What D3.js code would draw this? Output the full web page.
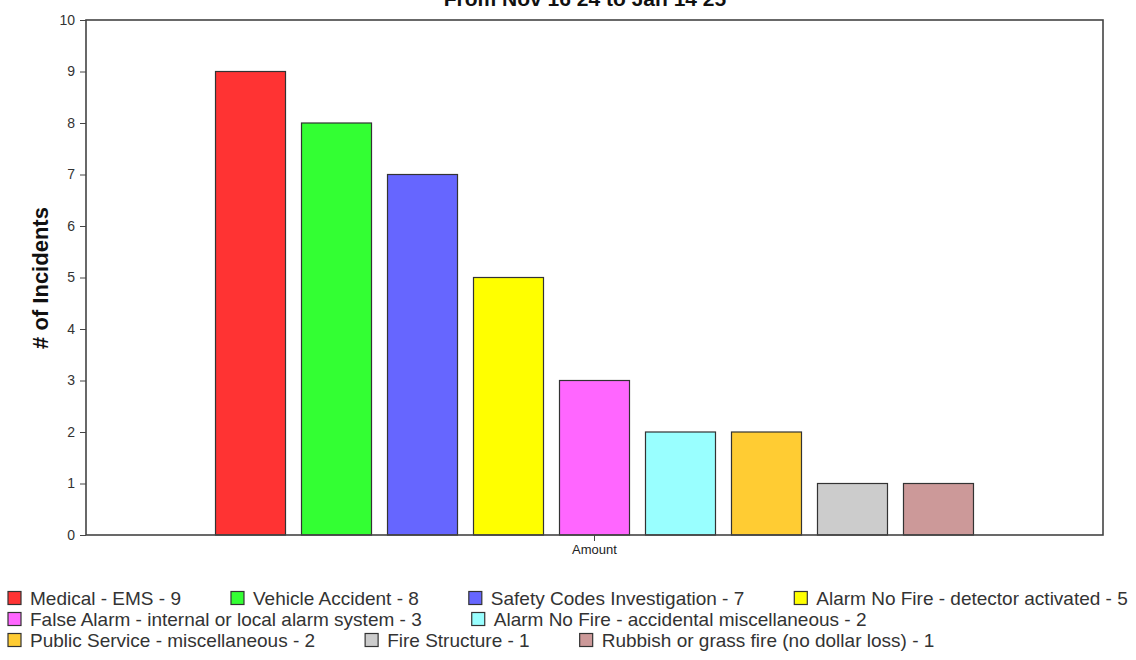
<!DOCTYPE html>
<html>
<head>
<meta charset="utf-8">
<script src="https://cdn.jsdelivr.net/npm/d3@7"></script>
<style>
  html, body { margin: 0; padding: 0; background: #ffffff; }
  svg { display: block; font-family: "Liberation Sans", Arial, sans-serif; }
</style>
</head>
<body>
<svg id="chart" width="1136" height="660"></svg>
<script>
// ---- data ----
const titleText = "From Nov 16 24 to Jan 14 25";
const yAxisTitle = "# of Incidents";
const categories = ["Amount"];
const seriesNames = [
  "Medical - EMS",
  "Vehicle Accident",
  "Safety Codes Investigation",
  "Alarm No Fire - detector activated",
  "False Alarm - internal or local alarm system",
  "Alarm No Fire - accidental miscellaneous",
  "Public Service - miscellaneous",
  "Fire Structure",
  "Rubbish or grass fire (no dollar loss)"
];
const seriesValues = [9, 8, 7, 5, 3, 2, 2, 1, 1];
const seriesColors = ["#ff3333", "#33ff33", "#6666ff", "#ffff00", "#ff66ff", "#99ffff", "#ffcc33", "#cccccc", "#cc9999"];
const yTicks = [0, 1, 2, 3, 4, 5, 6, 7, 8, 9, 10];

// ---- layout ----
const svg = d3.select("#chart");
const plot = { left: 86, right: 1103, top: 20, bottom: 535 };

const y = d3.scaleLinear().domain([0, 10]).range([plot.bottom, plot.top]);
const x0 = d3.scaleBand().domain(categories).range([plot.left, plot.right]).paddingInner(0).paddingOuter(0.157);
const x1 = d3.scaleBand().domain(seriesNames).range([0, x0.bandwidth()]).paddingInner(0.186).paddingOuter(0.093);

// plot background
svg.append("rect")
  .attr("x", plot.left).attr("y", plot.top)
  .attr("width", plot.right - plot.left).attr("height", plot.bottom - plot.top)
  .attr("fill", "#ffffff");

// title (partially clipped at top, as in the reference)
svg.append("text")
  .attr("x", 585).attr("y", 6)
  .attr("text-anchor", "middle")
  .attr("font-size", 21).attr("font-weight", "bold").attr("fill", "#111")
  .text(titleText);

// bars
const group = svg.append("g").selectAll("g").data(categories).join("g")
  .attr("transform", d => `translate(${x0(d)},0)`);
group.selectAll("rect")
  .data(seriesNames.map((n, i) => ({ name: n, value: seriesValues[i], color: seriesColors[i] })))
  .join("rect")
  .attr("x", d => x1(d.name))
  .attr("y", d => y(d.value))
  .attr("width", x1.bandwidth())
  .attr("height", d => y(0) - y(d.value))
  .attr("fill", d => d.color)
  .attr("stroke", "#333")
  .attr("stroke-width", 1.2);

// frame
svg.append("rect")
  .attr("x", plot.left).attr("y", plot.top)
  .attr("width", plot.right - plot.left).attr("height", plot.bottom - plot.top)
  .attr("fill", "none").attr("stroke", "#444").attr("stroke-width", 1.6);

// y axis
const yAxis = svg.append("g")
  .attr("transform", `translate(${plot.left},0)`)
  .call(d3.axisLeft(y).tickValues(yTicks).tickSize(6).tickPadding(5).tickFormat(d3.format("d")));
yAxis.select(".domain").remove();
yAxis.selectAll(".tick line").attr("stroke", "#444");
yAxis.selectAll(".tick text").attr("font-size", 14).attr("fill", "#333")
  .attr("font-family", "'Liberation Sans', Arial, sans-serif");

// x axis
const xAxis = svg.append("g")
  .attr("transform", `translate(0,${plot.bottom})`)
  .call(d3.axisBottom(x0).tickSize(6).tickPadding(4));
xAxis.select(".domain").remove();
xAxis.selectAll(".tick line").attr("stroke", "#444");
xAxis.selectAll(".tick text").attr("font-size", 13).attr("fill", "#222")
  .attr("font-family", "'Liberation Sans', Arial, sans-serif");

// y axis title
svg.append("text")
  .attr("transform", "translate(48,278) rotate(-90)")
  .attr("text-anchor", "middle")
  .attr("font-size", 22).attr("font-weight", "bold").attr("fill", "#111")
  .text(yAxisTitle);

// legend (flow layout)
const legend = svg.append("g");
const legendFont = 19, sq = 13, rowH = 21, gap = 50, maxW = 1136;
let lx = 8, ly = 598;
seriesNames.forEach((n, i) => {
  const label = `${n} - ${seriesValues[i]}`;
  const g = legend.append("g");
  const t = g.append("text")
    .attr("font-size", legendFont).attr("fill", "#333")
    .text(label);
  const w = t.node().getComputedTextLength();
  if (lx > 8 && lx + 22 + w > maxW) { lx = 8; ly += rowH; }
  g.append("rect")
    .attr("x", lx).attr("y", ly - sq / 2)
    .attr("width", sq).attr("height", sq)
    .attr("fill", seriesColors[i]).attr("stroke", "#333").attr("stroke-width", 1.2);
  t.attr("x", lx + 22).attr("y", ly + 7);
  lx = lx + 22 + w + gap;
});
</script>
</body>
</html>
